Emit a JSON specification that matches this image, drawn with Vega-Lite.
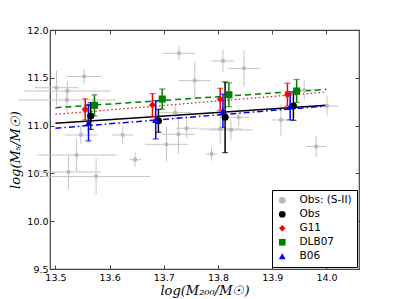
{
  "$schema": "https://vega.github.io/schema/vega-lite/v6.json",
  "width": 309,
  "height": 239,
  "autosize": "none",
  "padding": {"left": 50, "top": 30, "right": 40, "bottom": 30},
  "background": "white",
  "config": {
    "view": {"stroke": "#444", "strokeWidth": 1.2},
    "axis": {"grid": false, "domain": false, "tickColor": "#444", "tickSize": -4, "labelFont": "DejaVu Sans", "labelFontSize": 9.5, "labelColor": "black", "titleFont": "DejaVu Serif", "titleFontStyle": "italic", "titleFontWeight": "normal", "titleFontSize": 13, "titleColor": "black"}
  },
  "datasets": {
    "sii": [
      {"series": "Obs: (S-II)", "x": 13.502, "y": 11.396, "xlo": 13.462, "xhi": 13.542, "ylo": 11.216, "yhi": 11.576},
      {"series": "Obs: (S-II)", "x": 13.553, "y": 11.514, "xlo": 13.521, "xhi": 13.585, "ylo": 11.434, "yhi": 11.594},
      {"series": "Obs: (S-II)", "x": 13.522, "y": 11.362, "xlo": 13.442, "xhi": 13.602, "ylo": 11.262, "yhi": 11.462},
      {"series": "Obs: (S-II)", "x": 13.521, "y": 11.268, "xlo": 13.431, "xhi": 13.611, "ylo": 11.148, "yhi": 11.388},
      {"series": "Obs: (S-II)", "x": 13.728, "y": 11.756, "xlo": 13.698, "xhi": 13.758, "ylo": 11.686, "yhi": 11.826},
      {"series": "Obs: (S-II)", "x": 13.757, "y": 11.47, "xlo": 13.727, "xhi": 13.787, "ylo": 11.28, "yhi": 11.66},
      {"series": "Obs: (S-II)", "x": 13.809, "y": 11.676, "xlo": 13.789, "xhi": 13.829, "ylo": 11.556, "yhi": 11.796},
      {"series": "Obs: (S-II)", "x": 13.848, "y": 11.599, "xlo": 13.818, "xhi": 13.878, "ylo": 11.409, "yhi": 11.789},
      {"series": "Obs: (S-II)", "x": 13.705, "y": 10.804, "xlo": 13.665, "xhi": 13.745, "ylo": 10.624, "yhi": 10.984},
      {"series": "Obs: (S-II)", "x": 13.727, "y": 10.909, "xlo": 13.697, "xhi": 13.757, "ylo": 10.709, "yhi": 11.109},
      {"series": "Obs: (S-II)", "x": 13.742, "y": 10.972, "xlo": 13.722, "xhi": 13.762, "ylo": 10.872, "yhi": 11.072},
      {"series": "Obs: (S-II)", "x": 13.721, "y": 11.135, "xlo": 13.691, "xhi": 13.751, "ylo": 11.055, "yhi": 11.215},
      {"series": "Obs: (S-II)", "x": 13.624, "y": 10.902, "xlo": 13.604, "xhi": 13.644, "ylo": 10.802, "yhi": 11.002},
      {"series": "Obs: (S-II)", "x": 13.547, "y": 10.902, "xlo": 13.517, "xhi": 13.577, "ylo": 10.802, "yhi": 11.002},
      {"series": "Obs: (S-II)", "x": 13.838, "y": 11.087, "xlo": 13.818, "xhi": 13.858, "ylo": 10.987, "yhi": 11.187},
      {"series": "Obs: (S-II)", "x": 13.824, "y": 10.955, "xlo": 13.784, "xhi": 13.864, "ylo": 10.855, "yhi": 11.055},
      {"series": "Obs: (S-II)", "x": 13.916, "y": 11.059, "xlo": 13.899, "xhi": 13.933, "ylo": 10.889, "yhi": 11.229},
      {"series": "Obs: (S-II)", "x": 13.981, "y": 10.781, "xlo": 13.963, "xhi": 13.999, "ylo": 10.671, "yhi": 10.891},
      {"series": "Obs: (S-II)", "x": 14.001, "y": 11.205, "xlo": 13.981, "xhi": 14.021, "ylo": 11.105, "yhi": 11.305},
      {"series": "Obs: (S-II)", "x": 13.539, "y": 10.692, "xlo": 13.466, "xhi": 13.612, "ylo": 10.522, "yhi": 10.862},
      {"series": "Obs: (S-II)", "x": 13.524, "y": 10.515, "xlo": 13.464, "xhi": 13.584, "ylo": 10.335, "yhi": 10.695},
      {"series": "Obs: (S-II)", "x": 13.575, "y": 10.468, "xlo": 13.475, "xhi": 13.675, "ylo": 10.278, "yhi": 10.658},
      {"series": "Obs: (S-II)", "x": 13.647, "y": 10.643, "xlo": 13.636, "xhi": 13.658, "ylo": 10.568, "yhi": 10.718},
      {"series": "Obs: (S-II)", "x": 13.788, "y": 10.703, "xlo": 13.778, "xhi": 13.798, "ylo": 10.633, "yhi": 10.773},
      {"series": "Obs: (S-II)", "x": 13.959, "y": 11.372, "xlo": 13.939, "xhi": 13.979, "ylo": 11.272, "yhi": 11.472},
      {"series": "Obs: (S-II)", "x": 13.804, "y": 10.964, "xlo": 13.764, "xhi": 13.844, "ylo": 10.814, "yhi": 11.114}
    ],
    "main": [
      {"series": "Obs", "x": 13.565, "y": 11.1, "ylo": 10.96, "yhi": 11.24},
      {"series": "Obs", "x": 13.69, "y": 11.05, "ylo": 10.93, "yhi": 11.17},
      {"series": "Obs", "x": 13.813, "y": 11.087, "ylo": 10.717, "yhi": 11.457},
      {"series": "Obs", "x": 13.939, "y": 11.205, "ylo": 11.055, "yhi": 11.355},
      {"series": "G11", "x": 13.555, "y": 11.17, "ylo": 11.06, "yhi": 11.28},
      {"series": "G11", "x": 13.679, "y": 11.215, "ylo": 11.095, "yhi": 11.335},
      {"series": "G11", "x": 13.804, "y": 11.275, "ylo": 11.16, "yhi": 11.39},
      {"series": "G11", "x": 13.928, "y": 11.323, "ylo": 11.203, "yhi": 11.443},
      {"series": "DLB07", "x": 13.572, "y": 11.212, "ylo": 11.102, "yhi": 11.322},
      {"series": "DLB07", "x": 13.697, "y": 11.278, "ylo": 11.173, "yhi": 11.383},
      {"series": "DLB07", "x": 13.82, "y": 11.323, "ylo": 11.198, "yhi": 11.448},
      {"series": "DLB07", "x": 13.945, "y": 11.362, "ylo": 11.242, "yhi": 11.482},
      {"series": "B06", "x": 13.561, "y": 11.03, "ylo": 10.84, "yhi": 11.22},
      {"series": "B06", "x": 13.685, "y": 11.06, "ylo": 10.86, "yhi": 11.26},
      {"series": "B06", "x": 13.809, "y": 11.155, "ylo": 10.98, "yhi": 11.33},
      {"series": "B06", "x": 13.933, "y": 11.2, "ylo": 11.06, "yhi": 11.34}
    ],
    "fits": [
      {"series": "Obs", "x": 13.5, "y": 11.024},
      {"series": "Obs", "x": 14.0, "y": 11.212},
      {"series": "DLB07", "x": 13.5, "y": 11.187},
      {"series": "DLB07", "x": 14.0, "y": 11.379},
      {"series": "G11", "x": 13.5, "y": 11.118},
      {"series": "G11", "x": 14.0, "y": 11.351},
      {"series": "B06", "x": 13.5, "y": 10.972},
      {"series": "B06", "x": 14.0, "y": 11.205}
    ]
  },
  "layer": [
    {
      "data": {"name": "sii"},
      "mark": {"type": "rule", "color": "#c4c4c4", "strokeWidth": 1},
      "encoding": {
        "x": {"field": "xlo", "type": "quantitative", "scale": {"domain": [13.49, 14.06], "nice": false, "zero": false}, "axis": {"values": [13.5, 13.6, 13.7, 13.8, 13.9, 14.0], "format": ".1f", "title": "log(M₂₀₀/M☉)", "labelPadding": 7, "titlePadding": 3}},
        "x2": {"field": "xhi"},
        "y": {"field": "y", "type": "quantitative", "scale": {"domain": [9.5, 12.0], "nice": false, "zero": false}, "axis": {"values": [9.5, 10.0, 10.5, 11.0, 11.5, 12.0], "format": ".1f", "title": "log(Mₛ/M☉)", "labelPadding": 6, "titlePadding": 4}}
      }
    },
    {
      "data": {"name": "sii"},
      "mark": {"type": "rule", "color": "#c4c4c4", "strokeWidth": 1},
      "encoding": {
        "x": {"field": "x", "type": "quantitative", "axis": null},
        "y": {"field": "ylo", "type": "quantitative", "axis": null},
        "y2": {"field": "yhi"}
      }
    },
    {
      "data": {"name": "fits"},
      "transform": [{"filter": "datum.series == 'Obs'"}],
      "mark": {"type": "line", "color": "black", "strokeWidth": 1.5},
      "encoding": {"x": {"field": "x", "type": "quantitative", "axis": null}, "y": {"field": "y", "type": "quantitative", "axis": null}}
    },
    {
      "data": {"name": "fits"},
      "transform": [{"filter": "datum.series == 'DLB07'"}],
      "mark": {"type": "line", "color": "#008000", "strokeWidth": 1.5, "strokeDash": [6, 4]},
      "encoding": {"x": {"field": "x", "type": "quantitative", "axis": null}, "y": {"field": "y", "type": "quantitative", "axis": null}}
    },
    {
      "data": {"name": "fits"},
      "transform": [{"filter": "datum.series == 'G11'"}],
      "mark": {"type": "line", "color": "#ff0000", "strokeWidth": 1.2, "strokeDash": [1.5, 2.5]},
      "encoding": {"x": {"field": "x", "type": "quantitative", "axis": null}, "y": {"field": "y", "type": "quantitative", "axis": null}}
    },
    {
      "data": {"name": "fits"},
      "transform": [{"filter": "datum.series == 'B06'"}],
      "mark": {"type": "line", "color": "#0000ff", "strokeWidth": 1.5, "strokeDash": [6, 3, 1.5, 3]},
      "encoding": {"x": {"field": "x", "type": "quantitative", "axis": null}, "y": {"field": "y", "type": "quantitative", "axis": null}}
    },
    {
      "data": {"name": "main"},
      "mark": {"type": "rule", "strokeWidth": 1.5},
      "encoding": {
        "x": {"field": "x", "type": "quantitative", "axis": null},
        "y": {"field": "ylo", "type": "quantitative", "axis": null},
        "y2": {"field": "yhi"},
        "stroke": {"field": "series", "type": "nominal", "legend": null, "scale": {"domain": ["Obs", "G11", "DLB07", "B06"], "range": ["#000000", "#ff0000", "#008000", "#0000ff"]}}
      }
    },
    {
      "data": {"name": "main"},
      "mark": {"type": "tick", "orient": "horizontal", "size": 6, "thickness": 1.2},
      "encoding": {
        "x": {"field": "x", "type": "quantitative", "axis": null},
        "y": {"field": "ylo", "type": "quantitative", "axis": null},
        "fill": {"field": "series", "type": "nominal", "legend": null, "scale": {"domain": ["Obs", "G11", "DLB07", "B06"], "range": ["#000000", "#ff0000", "#008000", "#0000ff"]}}
      }
    },
    {
      "data": {"name": "main"},
      "mark": {"type": "tick", "orient": "horizontal", "size": 6, "thickness": 1.2},
      "encoding": {
        "x": {"field": "x", "type": "quantitative", "axis": null},
        "y": {"field": "yhi", "type": "quantitative", "axis": null},
        "fill": {"field": "series", "type": "nominal", "legend": null}
      }
    },
    {
      "data": {"name": "sii"},
      "mark": {"type": "point", "filled": true, "size": 18, "opacity": 1},
      "encoding": {
        "x": {"field": "x", "type": "quantitative", "axis": null},
        "y": {"field": "y", "type": "quantitative", "axis": null},
        "color": {"field": "series", "type": "nominal"},
        "shape": {"field": "series", "type": "nominal"}
      }
    },
    {
      "data": {"name": "main"},
      "mark": {"type": "point", "filled": true, "size": 50, "opacity": 1},
      "encoding": {
        "x": {"field": "x", "type": "quantitative", "axis": null},
        "y": {"field": "y", "type": "quantitative", "axis": null},
        "color": {"field": "series", "type": "nominal", "scale": {"domain": ["Obs: (S-II)", "Obs", "G11", "DLB07", "B06"], "range": ["#b8b8b8", "#000000", "#ff0000", "#008000", "#0000ff"]}, "legend": {"title": null, "orient": "none", "legendX": 222, "legendY": 160, "strokeColor": "black", "fillColor": "white", "padding": 5, "rowPadding": 3, "labelFont": "DejaVu Sans", "labelFontSize": 10.5, "labelColor": "black", "symbolSize": 45, "symbolStrokeWidth": 0, "labelOffset": 12, "symbolOpacity": 1}},
        "shape": {"field": "series", "type": "nominal", "scale": {"domain": ["Obs: (S-II)", "Obs", "G11", "DLB07", "B06"], "range": ["circle", "circle", "diamond", "square", "triangle-up"]}, "legend": {"title": null, "orient": "none", "legendX": 222, "legendY": 160}}
      }
    },
    {
      "data": {"name": "main"},
      "mark": {"type": "tick", "orient": "horizontal", "size": 0, "thickness": 0, "opacity": 0},
      "encoding": {
        "x": {"field": "x", "type": "quantitative", "axis": {"orient": "top", "values": [13.5, 13.6, 13.7, 13.8, 13.9, 14.0], "labels": false, "title": null}},
        "y": {"field": "y", "type": "quantitative", "axis": {"orient": "right", "values": [9.5, 10.0, 10.5, 11.0, 11.5, 12.0], "labels": false, "title": null}}
      }
    }
  ],
  "resolve": {"axis": {"x": "independent", "y": "independent"}}
}
